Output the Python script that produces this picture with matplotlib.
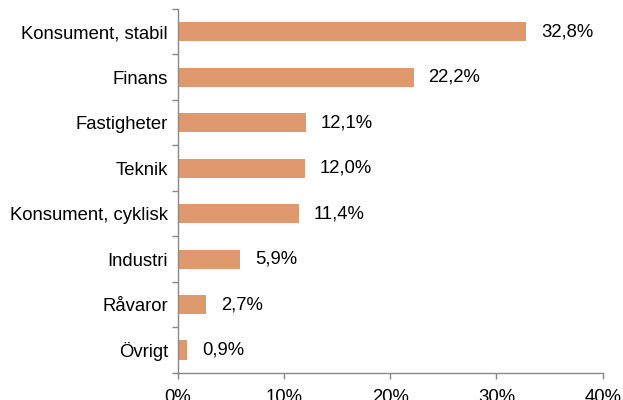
import matplotlib
matplotlib.use("Agg")
import matplotlib.pyplot as plt
import numpy as np

categories = ["Konsument, stabil", "Finans", "Fastigheter", "Teknik",
              "Konsument, cyklisk", "Industri", "Råvaror", "Övrigt"]
values = [32.8, 22.2, 12.1, 12.0, 11.4, 5.9, 2.7, 0.9]
labels = ["32,8%", "22,2%", "12,1%", "12,0%", "11,4%", "5,9%", "2,7%", "0,9%"]
xticks = [0, 10, 20, 30, 40]
xticklabels = ["0%", "10%", "20%", "30%", "40%"]

plt.rcParams['font.family'] = ['Liberation Sans', 'DejaVu Sans']
fs = 13.3

fig = plt.figure(figsize=(6.23, 4.0), dpi=100)
ax = fig.add_axes([0.2852, 0.0682, 0.6822, 0.9093])

y = np.arange(len(categories))
ax.barh(y, values, height=0.42, color='#E0996F')

for yi, v, lab in zip(y, values, labels):
    ax.annotate(lab, (v, yi), xytext=(10.5, 0), textcoords='offset points',
                va='center', ha='left', fontsize=fs, color='#000000')

ax.set_ylim(len(categories) - 0.5, -0.5)
ax.set_xlim(0, 40)
ax.set_yticks(y)
ax.set_yticklabels(categories, fontsize=fs)
ax.set_yticks(np.arange(len(categories) + 1) - 0.5, minor=True)
ax.tick_params(axis='y', which='major', length=0, pad=7)
ax.tick_params(axis='y', which='minor', length=4, color='#888888', width=1)
ax.set_xticks(xticks)
ax.set_xticklabels(xticklabels, fontsize=fs)
ax.tick_params(axis='x', length=4, color='#888888', width=1, pad=8)

for s in ['top', 'right']:
    ax.spines[s].set_visible(False)
for s in ['left', 'bottom']:
    ax.spines[s].set_color('#888888')
    ax.spines[s].set_linewidth(1)

fig.savefig("out.png", dpi=100)
